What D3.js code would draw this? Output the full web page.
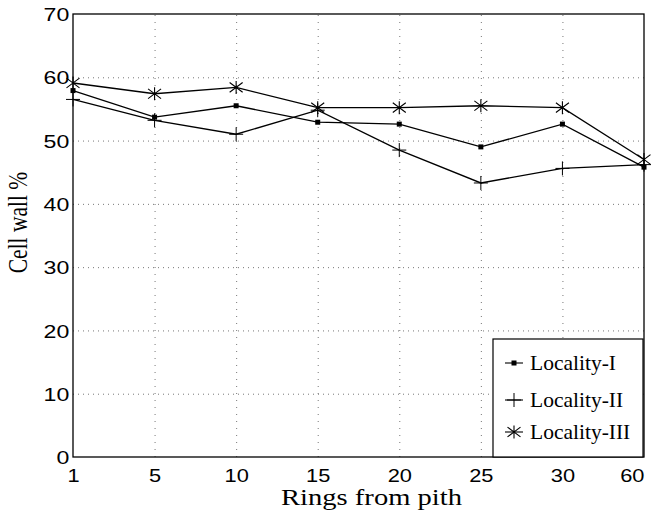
<!DOCTYPE html>
<html>
<head>
<meta charset="utf-8">
<script src="https://cdn.jsdelivr.net/npm/d3@7"></script>
<style>
  body { margin: 0; background: #fff; }
  svg { display: block; }
</style>
</head>
<body>
<div id="chart"></div>
<script>
// data
const rings = ["1", "5", "10", "15", "20", "25", "30", "60"];
const localityI = [57.9, 53.7, 55.5, 52.9, 52.6, 49.0, 52.6, 45.8];
const localityII = [56.5, 53.2, 51.0, 54.8, 48.5, 43.3, 45.6, 46.2];
const localityIII = [59.1, 57.4, 58.4, 55.2, 55.2, 55.5, 55.2, 47.0];
const seriesNames = ["Locality-I", "Locality-II", "Locality-III"];
const yTicks = [0, 10, 20, 30, 40, 50, 60, 70];

const width = 655, height = 514;
const margin = { top: 14, right: 11, bottom: 57, left: 73 };
const plotW = width - margin.left - margin.right;
const plotH = height - margin.top - margin.bottom;

const series = [
  { name: seriesNames[0], values: localityI, marker: "square" },
  { name: seriesNames[1], values: localityII, marker: "plus" },
  { name: seriesNames[2], values: localityIII, marker: "star" }
];

const svg = d3.select("#chart").append("svg")
  .attr("width", width)
  .attr("height", height);

const x = d3.scalePoint().domain(rings).range([margin.left, width - margin.right]);
const y = d3.scaleLinear().domain([0, 70]).range([height - margin.bottom, margin.top]);

// grid
svg.append("g")
  .attr("transform", `translate(${margin.left},0)`)
  .call(d3.axisLeft(y).tickValues(yTicks.slice(1, -1)).tickSize(-plotW).tickFormat(""))
  .call(g => g.select(".domain").remove())
  .selectAll("line")
    .attr("stroke", "#777")
    .attr("stroke-width", 1)
    .attr("stroke-dasharray", "1,4");

svg.append("g")
  .attr("transform", `translate(0,${height - margin.bottom})`)
  .call(d3.axisBottom(x).tickValues(rings.slice(1, -1)).tickSize(-plotH).tickFormat(""))
  .call(g => g.select(".domain").remove())
  .selectAll("line")
    .attr("stroke", "#777")
    .attr("stroke-width", 1)
    .attr("stroke-dasharray", "1,6");

// tick labels (the scan is stretched sideways)
const tickFont = "'Liberation Sans', Arial, sans-serif";
svg.append("g")
  .attr("transform", `translate(${margin.left},0)`)
  .call(d3.axisLeft(y).tickValues(yTicks).tickSize(0).tickPadding(0))
  .call(g => g.select(".domain").remove())
  .selectAll("text")
    .attr("x", -3)
    .attr("dy", "0.36em")
    .attr("transform", "scale(1.25,1)")
    .attr("font-family", tickFont)
    .attr("font-size", 18.5)
    .attr("fill", "#000");

svg.append("g")
  .attr("transform", `translate(0,${height - margin.bottom})`)
  .call(d3.axisBottom(x).tickSize(0).tickPadding(0))
  .call(g => g.select(".domain").remove())
  .selectAll("text")
    .attr("y", 25)
    .attr("dy", 0)
    .attr("transform", "scale(1.18,1)")
    .attr("font-family", tickFont)
    .attr("font-size", 18.5)
    .attr("fill", "#000")
    .attr("text-anchor", d => d === rings[rings.length - 1] ? "end" : "middle");

// frame
svg.append("rect")
  .attr("x", margin.left)
  .attr("y", margin.top)
  .attr("width", plotW)
  .attr("height", plotH)
  .attr("fill", "none")
  .attr("stroke", "#000")
  .attr("stroke-width", 1.3);

// markers
function drawMarker(g, type, cx, cy) {
  if (type === "square") {
    g.append("rect")
      .attr("x", cx - 2.5).attr("y", cy - 2.5)
      .attr("width", 5).attr("height", 5)
      .attr("fill", "#000");
  } else if (type === "plus") {
    g.append("path")
      .attr("d", `M${cx - 7},${cy}H${cx + 7}M${cx},${cy - 7}V${cy + 7}`)
      .attr("stroke", "#000").attr("stroke-width", 1);
  } else {
    const r = 6.5;
    g.append("path")
      .attr("d", `M${cx},${cy - r}V${cy + r}M${cx - r},${cy - r * 0.75}L${cx + r},${cy + r * 0.75}M${cx - r},${cy + r * 0.75}L${cx + r},${cy - r * 0.75}`)
      .attr("stroke", "#000").attr("stroke-width", 1.1);
  }
}

const line = d3.line()
  .x((d, i) => x(rings[i]))
  .y(d => y(d));

series.forEach(s => {
  svg.append("path")
    .datum(s.values)
    .attr("d", line)
    .attr("fill", "none")
    .attr("stroke", "#000")
    .attr("stroke-width", 1.3);
  const g = svg.append("g");
  s.values.forEach((v, i) => drawMarker(g, s.marker, x(rings[i]), y(v)));
});

// legend
const serif = "'Liberation Serif', 'Times New Roman', serif";
const legend = svg.append("g")
  .attr("transform", `translate(${width - margin.right - 151},${height - margin.bottom - 118})`);

legend.append("rect")
  .attr("width", 150)
  .attr("height", 118)
  .attr("fill", "#fff")
  .attr("stroke", "#000")
  .attr("stroke-width", 1.2);

const rowY = [24, 61, 93];
series.forEach((s, i) => {
  const row = legend.append("g").attr("transform", `translate(0,${rowY[i]})`);
  row.append("line")
    .attr("x1", 12).attr("x2", 30)
    .attr("stroke", "#000").attr("stroke-width", 1.1);
  drawMarker(row, s.marker, 21, 0);
  row.append("text")
    .attr("x", 37)
    .attr("dy", "0.33em")
    .attr("font-family", serif)
    .attr("font-size", 21.5)
    .attr("fill", "#000")
    .text(s.name);
});

// axis titles
svg.append("text")
  .attr("transform", `translate(${margin.left + plotW / 2 + 13},${height - 9}) scale(1.27,1)`)
  .attr("text-anchor", "middle")
  .attr("font-family", serif)
  .attr("font-size", 22.5)
  .attr("fill", "#000")
  .text("Rings from pith");

svg.append("text")
  .attr("transform", `translate(27,${margin.top + plotH / 2 - 13}) rotate(-90) scale(1,1.25)`)
  .attr("text-anchor", "middle")
  .attr("font-family", serif)
  .attr("font-size", 21.5)
  .attr("fill", "#000")
  .text("Cell wall %");
</script>
</body>
</html>
